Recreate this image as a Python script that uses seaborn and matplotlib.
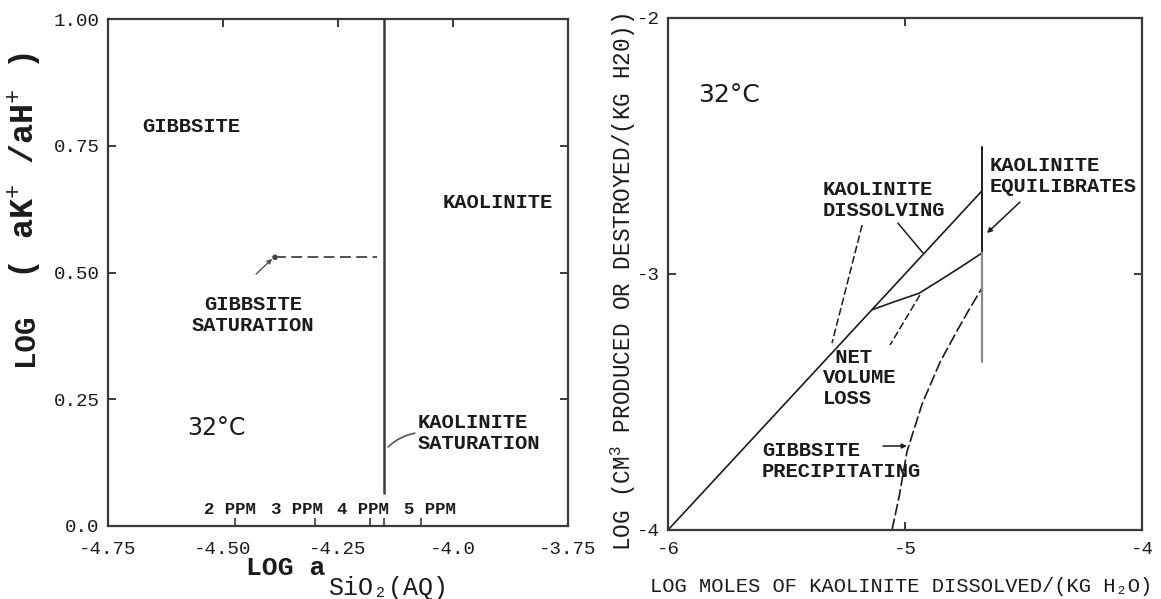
import matplotlib
matplotlib.use("Agg")
import matplotlib.pyplot as plt
import seaborn as sns

# ---- Left panel: activity diagram, K2O-Al2O3-SiO2-H2O at 32 C ----
act_xlim = (-4.75, -3.75)
act_ylim = (0.0, 1.0)
act_xticks = [-4.75, -4.50, -4.25, -4.0, -3.75]
act_xticklabels = ["-4.75", "-4.50", "-4.25", "-4.0", "-3.75"]
act_yticks = [0.0, 0.25, 0.50, 0.75, 1.00]
act_yticklabels = ["0.0", "0.25", "0.50", "0.75", "1.00"]

# kaolinite / gibbsite boundary (kaolinite saturation)
kaol_sat_x = [-4.15, -4.15]
kaol_sat_y = [0.065, 1.0]
# gibbsite saturation path
gibb_sat_x = [-4.387, -4.165]
gibb_sat_y = [0.53, 0.53]
# dissolved silica expressed in ppm
ppm_labels = ["2 PPM", "3 PPM", "4 PPM", "5 PPM"]
ppm_log_a = [-4.475, -4.30, -4.18, -4.07]

# ---- Right panel: volume change during kaolinite dissolution ----
vol_xticks = [-6, -5, -4]
vol_xticklabels = ["-6", "-5", "-4"]
vol_yticks = [-4, -3, -2]
vol_yticklabels = ["-4", "-3", "-2"]

diss_x = [-6.0, -4.675]
diss_y = [-4.0, -2.675]
net_x = [-5.14, -5.05, -4.94, -4.85, -4.76, -4.675]
net_y = [-3.14, -3.11, -3.075, -3.023, -2.97, -2.918]
gibb_x = [-5.055, -5.025, -4.992, -4.928, -4.852, -4.781, -4.726, -4.675]
gibb_y = [-4.0, -3.871, -3.695, -3.508, -3.344, -3.223, -3.133, -3.055]
equil_x = [-4.675, -4.675]
equil_upper_y = [-2.504, -2.918]
equil_lower_y = [-2.918, -3.344]

sns.set_theme(style="ticks")
plt.rcParams["font.family"] = ["Liberation Mono", "DejaVu Sans Mono", "DejaVu Sans"]
plt.rcParams["mathtext.fontset"] = "custom"
plt.rcParams["mathtext.rm"] = "Liberation Mono"
plt.rcParams["mathtext.it"] = "Liberation Mono"
plt.rcParams["mathtext.bf"] = "Liberation Mono:bold"

INK = "#1b1b1b"
FRAME = "#3a3a3a"
W, H = 1161, 599

fig = plt.figure(figsize=(W / 100, H / 100), dpi=100)
fig.patch.set_facecolor("white")
ax1 = fig.add_axes([108 / W, 1 - 526 / H, 460 / W, 507 / H])
ax2 = fig.add_axes([668 / W, 1 - 530 / H, 474 / W, 512 / H])

for ax in (ax1, ax2):
    ax.set_facecolor("white")
    for s in ax.spines.values():
        s.set_visible(True)
        s.set_color(FRAME)
        s.set_linewidth(1.6)

ann = dict(fontsize=14.8, weight="bold", color=INK)

# ---------------- left panel ----------------
sns.lineplot(x=kaol_sat_x, y=kaol_sat_y, ax=ax1, color=FRAME, lw=1.8,
             sort=False, estimator=None)
sns.lineplot(x=gibb_sat_x, y=gibb_sat_y, ax=ax1, color="#444444", lw=1.3,
             linestyle=(0, (6, 3)), sort=False, estimator=None)
sns.scatterplot(x=gibb_sat_x[:1], y=gibb_sat_y[:1], ax=ax1, s=16,
                color="#444444", edgecolor="none")

ax1.set_xlim(*act_xlim)
ax1.set_ylim(*act_ylim)
ax1.set_xticks(act_xticks, act_xticklabels)
ax1.tick_params(axis="x", which="major", length=0, pad=11, labelsize=13.8,
                labelcolor=INK)
ax1.set_xticks(act_xticks[1:-1], minor=True)
ax1.tick_params(axis="x", which="minor", direction="out", length=5, width=1.4,
                color=FRAME, bottom=True)
ax1.set_yticks(act_yticks, act_yticklabels)
ax1.tick_params(axis="y", direction="in", left=True, right=True, length=6,
                width=1.4, color=FRAME, pad=6, labelsize=13.8, labelcolor=INK)

top1 = ax1.secondary_xaxis("top")
top1.set_xticks(act_xticks[1:-1])
top1.tick_params(direction="in", length=6, width=1.4, color=FRAME,
                 labeltop=False)
top1.spines["top"].set_visible(False)

ppm_ax = ax1.secondary_xaxis("bottom")
ppm_ax.set_xticks(ppm_log_a + [kaol_sat_x[0]])
ppm_ax.tick_params(direction="in", length=6, width=1.2, color=FRAME,
                   labelbottom=False)
ppm_ax.spines["bottom"].set_visible(False)

for lab, xx in zip(ppm_labels, [-4.485, -4.34, -4.195, -4.05]):
    ax1.text(xx, 0.032, lab, ha="center", va="center", fontsize=12.5,
             weight="bold", color=INK)

ax1.text(-4.676, 0.787, "GIBBSITE", ha="left", va="center", **ann)
ax1.text(-4.435, 0.416, "GIBBSITE\nSATURATION", ha="center", va="center",
         linespacing=1.12, **ann)
ax1.text(-4.022, 0.639, "KAOLINITE", ha="left", va="center", **ann)
ax1.text(-4.076, 0.183, "KAOLINITE\nSATURATION", ha="left", va="center",
         linespacing=1.12, **ann)
ax1.text(-4.578, 0.193, "32°C", ha="left", va="center", fontsize=17,
         family="DejaVu Sans", color=INK)

ax1.annotate("", xy=(-4.393, 0.527), xytext=(-4.428, 0.497),
             arrowprops=dict(arrowstyle="-|>", lw=1.0, color="#555555",
                             mutation_scale=7, shrinkA=0, shrinkB=0))
ax1.annotate("", xy=(-4.141, 0.156), xytext=(-4.083, 0.183),
             arrowprops=dict(arrowstyle="-", lw=1.2, color="#555555",
                             connectionstyle="arc3,rad=0.15",
                             shrinkA=0, shrinkB=0))

# ---------------- right panel ----------------
sns.lineplot(x=diss_x, y=diss_y, ax=ax2, color=INK, lw=1.2,
             sort=False, estimator=None)
sns.lineplot(x=net_x, y=net_y, ax=ax2, color=INK, lw=1.2,
             sort=False, estimator=None)
sns.lineplot(x=gibb_x, y=gibb_y, ax=ax2, color=INK, lw=1.2,
             linestyle=(0, (7, 2)), sort=False, estimator=None)
sns.lineplot(x=equil_x, y=equil_upper_y, ax=ax2, color=INK, lw=1.4,
             sort=False, estimator=None)
sns.lineplot(x=equil_x, y=equil_lower_y, ax=ax2, color="#8a8a8a", lw=1.6,
             sort=False, estimator=None)

ax2.set_xlim(-6, -4)
ax2.set_ylim(-4, -2)
ax2.set_xticks(vol_xticks, vol_xticklabels)
ax2.tick_params(axis="x", direction="in", top=True, bottom=True, length=6,
                width=1.4, color=FRAME, pad=8, labelsize=13.8, labelcolor=INK)
ax2.set_yticks(vol_yticks, vol_yticklabels)
ax2.tick_params(axis="y", direction="in", left=True, right=True, length=6,
                width=1.4, color=FRAME, pad=6, labelsize=13.8, labelcolor=INK)

ax2.text(-5.873, -2.30, "32°C", ha="left", va="center", fontsize=18,
         family="DejaVu Sans", color=INK)
ax2.text(-5.346, -2.711, "KAOLINITE\nDISSOLVING", ha="left", va="center",
         linespacing=1.12, **ann)
ax2.text(-4.641, -2.617, "KAOLINITE\nEQUILIBRATES", ha="left", va="center",
         linespacing=1.12, **ann)
ax2.text(-5.346, -3.406, " NET\nVOLUME\nLOSS", ha="left", va="center",
         linespacing=1.12, **ann)
ax2.text(-5.603, -3.73, "GIBBSITE\nPRECIPITATING", ha="left", va="center",
         linespacing=1.12, **ann)

lead = dict(color=INK, lw=1.1)
ax2.plot([-5.181, -5.308], [-2.809, -3.270], linestyle=(0, (5, 2)), **lead)
ax2.plot([-5.030, -4.924], [-2.801, -2.918], **lead)
ax2.plot([-4.937, -5.063], [-3.082, -3.277], linestyle=(0, (5, 2)), **lead)
ax2.annotate("", xy=(-4.654, -2.840), xytext=(-4.515, -2.719),
             arrowprops=dict(arrowstyle="-|>", lw=1.1, color=INK,
                             mutation_scale=7, shrinkA=0, shrinkB=0))
ax2.annotate("", xy=(-4.992, -3.672), xytext=(-5.093, -3.672),
             arrowprops=dict(arrowstyle="-|>", lw=1.1, color=INK,
                             mutation_scale=7, shrinkA=0, shrinkB=0))

# ---------------- axis titles ----------------
fig.text(25 / W, 1 - 340 / H, "LOG", rotation=90,
         ha="center", va="center", fontsize=21, weight="bold", color=INK)
fig.text(25 / W, 1 - 165 / H, r"( aK$^{+}$ /aH$^{+}$ )", rotation=90,
         ha="center", va="center", fontsize=24, weight="bold", color=INK)
fig.text(286 / W, 1 - 568 / H, "LOG a", ha="center", va="center",
         fontsize=19, weight="bold", color=INK)
fig.text(328 / W, 1 - 588 / H, "SiO₂(AQ)", ha="left", va="center",
         fontsize=18, color=INK)
fig.text(623 / W, 1 - 282 / H,
         r"LOG (CM$^{3}$ PRODUCED OR DESTROYED/(KG H20))", rotation=90,
         ha="center", va="center", fontsize=16.3, color=INK)
fig.text(901 / W, 1 - 587 / H, "LOG MOLES OF KAOLINITE DISSOLVED/(KG H₂O)",
         ha="center", va="center", fontsize=14.7, color=INK)

fig.savefig("out.png", dpi=100, facecolor="white")
